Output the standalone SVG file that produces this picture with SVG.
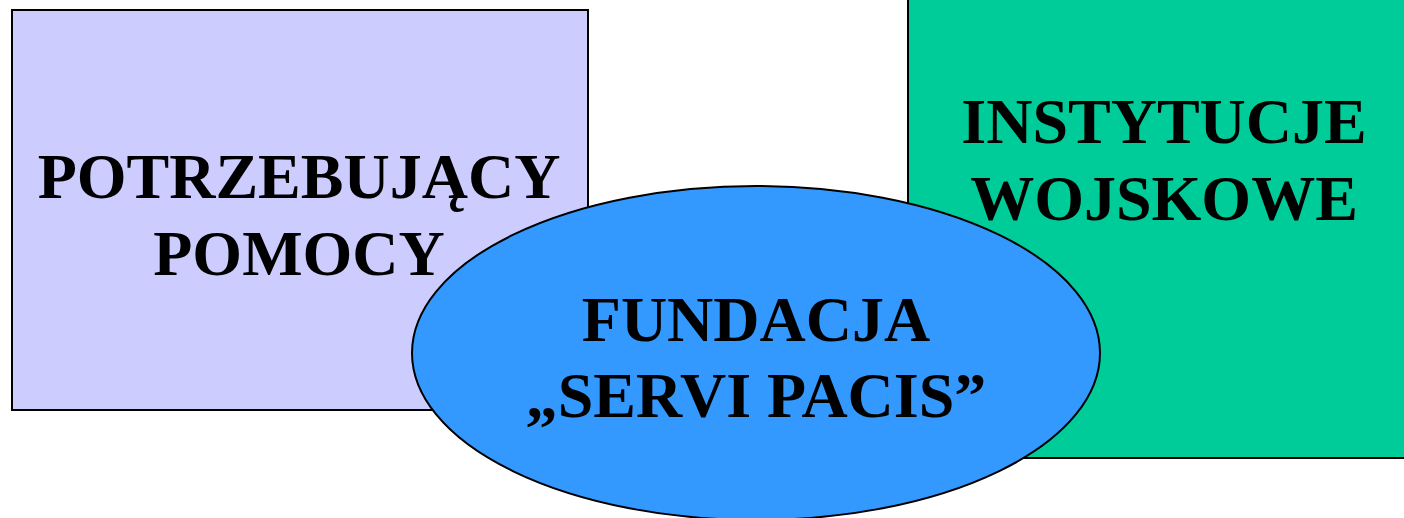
<svg xmlns="http://www.w3.org/2000/svg" width="1404" height="518" viewBox="0 0 1404 518">
  <style>
    .shape { stroke: #000000; stroke-width: 2; }
    .label { font-family: "Liberation Serif", "Times New Roman", serif; font-weight: bold; font-size: 64px; fill: #000000; text-anchor: middle; }
  </style>
  <rect width="1404" height="518" fill="#ffffff"/>
  <g id="node-potrzebujacy">
    <rect class="shape" x="12" y="10" width="576" height="400" fill="#CCCCFF"/>
    <text class="label" x="299" y="198">POTRZEBUJĄCY</text>
    <text class="label" x="299" y="275">POMOCY</text>
  </g>
  <g id="node-instytucje">
    <rect class="shape" x="908" y="-10" width="510" height="468" fill="#00CC99"/>
    <text class="label" x="1164" y="143">INSTYTUCJE</text>
    <text class="label" x="1164" y="220">WOJSKOWE</text>
  </g>
  <g id="node-fundacja">
    <ellipse class="shape" cx="756" cy="353" rx="344" ry="167" fill="#3399FF"/>
    <text class="label" x="756" y="341">FUNDACJA</text>
    <text class="label" x="756" y="417">„SERVI PACIS”</text>
  </g>
  <g id="connectors"></g>
</svg>
